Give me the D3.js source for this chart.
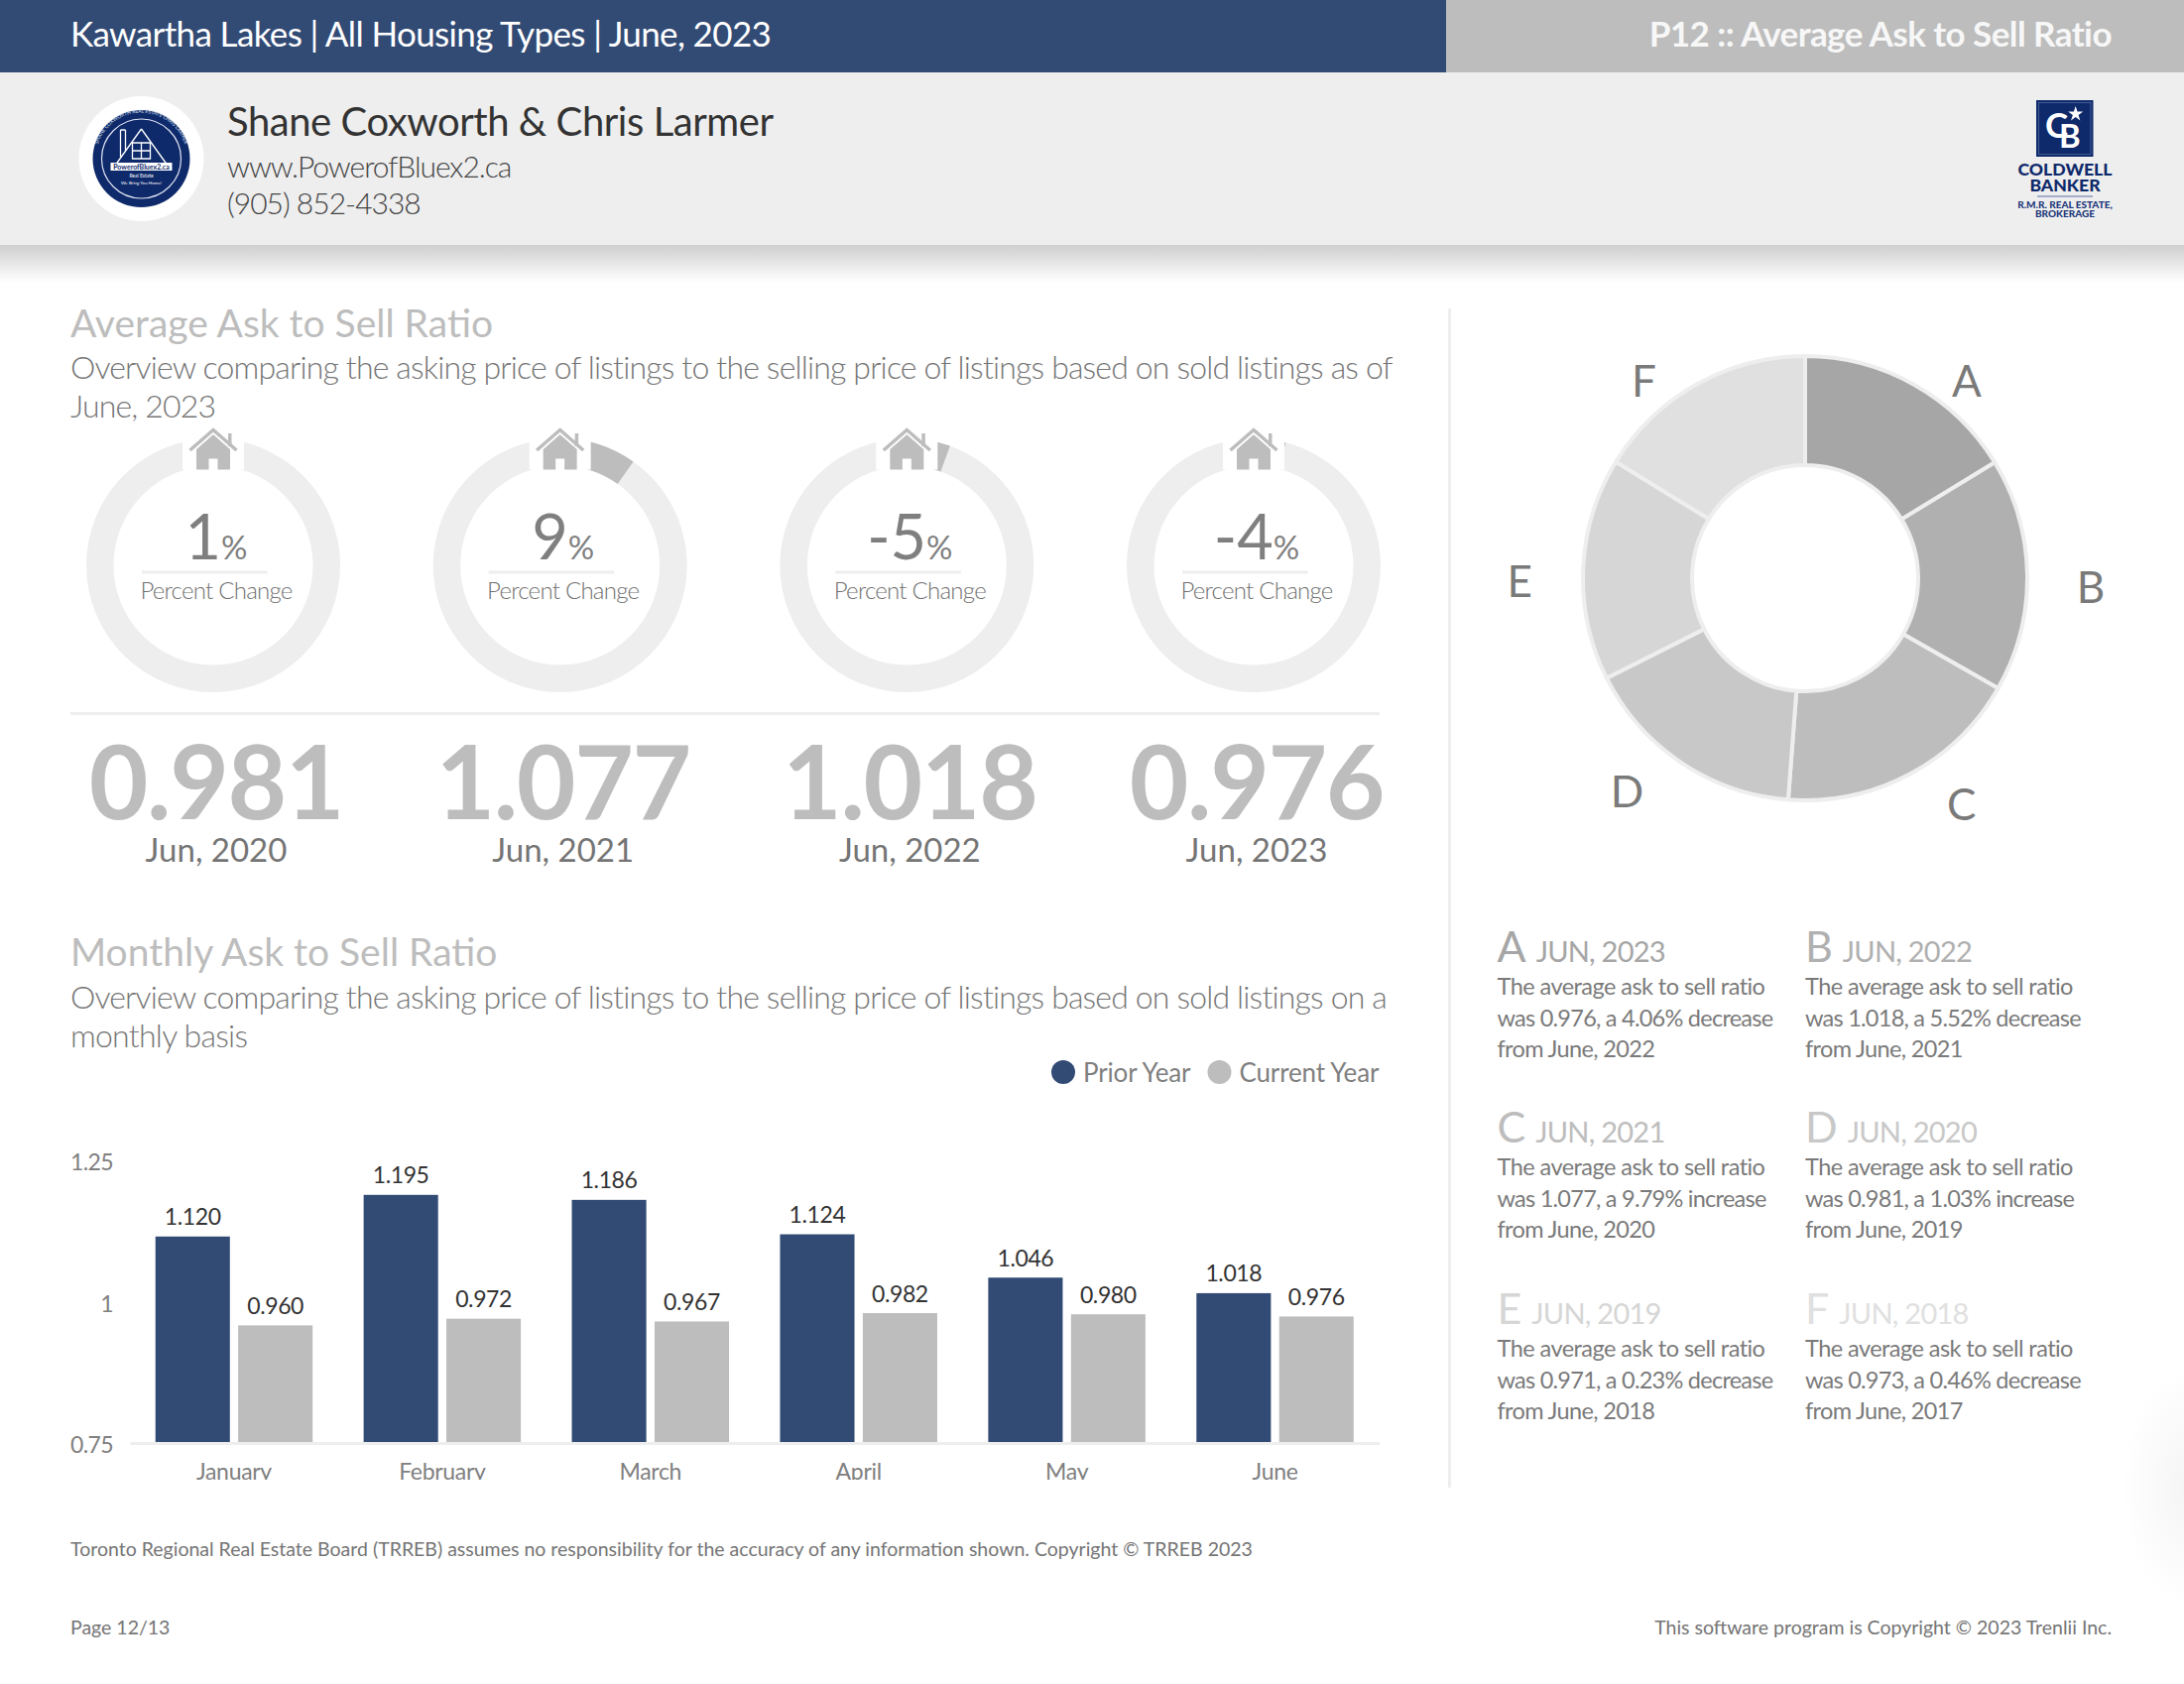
<!DOCTYPE html>
<html>
<head>
<meta charset="utf-8">
<script src="https://d3js.org/d3.v7.min.js"></script>
<style>
  html, body { margin: 0; padding: 0; background: #fff; }
  svg { display: block; font-family: Lato, sans-serif; }
  .axis text { font-family: Lato, sans-serif; }
</style>
</head>
<body>
<script>
const width = 2202;
const height = 1698;

// yearly cards
const yearLabels = ['Jun, 2020', 'Jun, 2021', 'Jun, 2022', 'Jun, 2023'];
const yearValues = ['0.981', '1.077', '1.018', '0.976'];
const yearChange = [1, 9, -5, -4];          // as printed in the ring
const yearChangeExact = [1.03, 9.79, -5.52, -4.06]; // what the ring arc shows

// monthly bars
const months = ['January', 'February', 'March', 'April', 'May', 'June'];
const priorYear = [1.120, 1.195, 1.186, 1.124, 1.046, 1.018];
const currentYear = [0.960, 0.972, 0.967, 0.982, 0.980, 0.976];
const yTicks = [0.75, 1, 1.25];
const seriesNames = ['Prior Year', 'Current Year'];

// big donut + notes
const sliceLetters = ['A', 'B', 'C', 'D', 'E', 'F'];
const sliceValues = [0.976, 1.018, 1.077, 0.981, 0.971, 0.973];
const sliceColors = ['#a6a6a6', '#b0b0b0', '#bdbdbd', '#c8c8c8', '#d6d6d6', '#e0e0e0'];
const noteYears = ['JUN, 2023', 'JUN, 2022', 'JUN, 2021', 'JUN, 2020', 'JUN, 2019', 'JUN, 2018'];
const noteMiddle = [
  'was 0.976, a 4.06% decrease', 'was 1.018, a 5.52% decrease',
  'was 1.077, a 9.79% increase', 'was 0.981, a 1.03% increase',
  'was 0.971, a 0.23% decrease', 'was 0.973, a 0.46% decrease'
];
const noteLast = [
  'from June, 2022', 'from June, 2021', 'from June, 2020',
  'from June, 2019', 'from June, 2018', 'from June, 2017'
];

const blue = '#324b75';
const grey = '#bdbdbd';
const pale = '#eeeeee';
const navy = '#0f2a6b';
const textGrey = '#7a7a7a';

const svg = d3.select('body').append('svg')
  .attr('width', width)
  .attr('height', height);

const defs = svg.append('defs');

const shadow = defs.append('linearGradient').attr('id', 'shadow')
  .attr('x1', 0).attr('y1', 0).attr('x2', 0).attr('y2', 1);
shadow.append('stop').attr('offset', 0).attr('stop-color', '#cfcfcf');
shadow.append('stop').attr('offset', 1).attr('stop-color', '#ffffff');

const corner = defs.append('radialGradient').attr('id', 'corner');
corner.append('stop').attr('offset', 0).attr('stop-color', '#f4f4f4');
corner.append('stop').attr('offset', 1).attr('stop-color', '#ffffff');

defs.append('clipPath').attr('id', 'chart-clip')
  .append('rect').attr('x', 60).attr('y', 1100).attr('width', 1380).attr('height', 392);

function label(parent, x, y, str, size, fill, opts) {
  opts = opts || {};
  return parent.append('text')
    .attr('x', x).attr('y', y)
    .attr('font-size', size)
    .attr('fill', fill)
    .attr('font-weight', opts.weight || 400)
    .attr('text-anchor', opts.anchor || 'start')
    .attr('letter-spacing', opts.spacing || null)
    .text(str);
}

/* ---------- header ---------- */
svg.append('rect').attr('width', 1458).attr('height', 73).attr('fill', blue);
svg.append('rect').attr('x', 1458).attr('width', width - 1458).attr('height', 73).attr('fill', grey);
svg.append('rect').attr('y', 73).attr('width', width).attr('height', 174).attr('fill', pale);
svg.append('rect').attr('y', 247).attr('width', width).attr('height', 38).attr('fill', 'url(#shadow)');

svg.append('ellipse').attr('cx', 2210).attr('cy', 1500).attr('rx', 70).attr('ry', 120).attr('fill', 'url(#corner)');

label(svg, 71, 47, 'Kawartha Lakes | All Housing Types | June, 2023', 35, '#fff', { spacing: -0.63 });
label(svg, 2129, 47, 'P12 :: Average Ask to Sell Ratio', 35, '#f7f7f7', { anchor: 'end', weight: 700, spacing: -0.56 });

label(svg, 229, 137, 'Shane Coxworth & Chris Larmer', 40, '#333', { spacing: -0.45 });
label(svg, 229, 179, 'www.PowerofBluex2.ca', 30, '#444', { weight: 300, spacing: -1.05 });
label(svg, 229, 216, '(905) 852-4338', 30, '#444', { weight: 300, spacing: -1 });

// team badge
const badge = svg.append('g').attr('transform', 'translate(142.5,160)');
badge.append('circle').attr('r', 63).attr('fill', '#fff');
badge.append('circle').attr('r', 49).attr('fill', navy);
badge.append('circle').attr('r', 40).attr('fill', 'none').attr('stroke', '#dfe4f2').attr('stroke-width', 1.2);
badge.append('path').attr('d', 'M0,-30L-28,9M0,-30L28,9M-21,-29V-2M-16,-29V-8M-21,-29H-16')
  .attr('fill', 'none').attr('stroke', '#fff').attr('stroke-width', 1.3);
badge.append('path').attr('d', 'M-9,-16H9V0H-9ZM0,-16V0M-9,-8H9')
  .attr('fill', 'none').attr('stroke', '#fff').attr('stroke-width', 1.3);
badge.append('rect').attr('x', -31).attr('y', 4).attr('width', 62).attr('height', 8).attr('fill', '#fff');
label(badge, 0, 11, 'PowerofBluex2.ca', 7, navy, { anchor: 'middle', weight: 700 });
label(badge, 0, 19, 'Real Estate', 5, '#fff', { anchor: 'middle' });
label(badge, 0, 26, 'We Bring You Home!', 4.5, '#fff', { anchor: 'middle' });
defs.append('path').attr('id', 'badge-arc').attr('d', 'M-43,16A46,46 0 1 1 43,16');
badge.append('text').attr('font-size', 5).attr('fill', '#dfe4f2')
  .append('textPath').attr('href', '#badge-arc').attr('startOffset', '50%').attr('text-anchor', 'middle')
  .text('SHANE COXWORTH  REAL ESTATE  CHRIS LARMER');

// brokerage logo
const cb = svg.append('g');
cb.append('rect').attr('x', 2053).attr('y', 101).attr('width', 57.5).attr('height', 57).attr('fill', navy);
cb.append('rect').attr('x', 2055.5).attr('y', 103.5).attr('width', 52.5).attr('height', 52)
  .attr('fill', 'none').attr('stroke', '#5a6fa6').attr('stroke-width', 0.7);
label(cb, 2062, 139, 'C', 35, '#fff', { weight: 700 });
label(cb, 2076, 149, 'B', 33, '#fff', { weight: 700 });
cb.append('path').attr('d', d3.symbol(d3.symbolStar, 70)()).attr('transform', 'translate(2092.7,115)').attr('fill', '#fff');
label(cb, 2082, 176.7, 'COLDWELL', 17.6, navy, { anchor: 'middle', weight: 900 });
label(cb, 2082, 193, 'BANKER', 17.6, navy, { anchor: 'middle', weight: 900 });
cb.append('rect').attr('x', 2054).attr('y', 197.5).attr('width', 56).attr('height', 1).attr('fill', '#5a6fa6');
label(cb, 2082, 210, 'R.M.R. REAL ESTATE,', 10, '#22397a', { anchor: 'middle', weight: 900 });
label(cb, 2082, 218.5, 'BROKERAGE', 10, '#22397a', { anchor: 'middle', weight: 900 });

/* ---------- section headings ---------- */
label(svg, 71, 340, 'Average Ask to Sell Ratio', 39, grey);
label(svg, 71, 382, 'Overview comparing the asking price of listings to the selling price of listings based on sold listings as of', 32, '#757575', { weight: 300, spacing: -0.84 });
label(svg, 71, 421, 'June, 2023', 32, '#757575', { weight: 300, spacing: -0.84 });

label(svg, 71, 974, 'Monthly Ask to Sell Ratio', 39, grey);
label(svg, 71, 1017, 'Overview comparing the asking price of listings to the selling price of listings based on sold listings on a', 32, '#757575', { weight: 300, spacing: -0.84 });
label(svg, 71, 1056, 'monthly basis', 32, '#757575', { weight: 300, spacing: -0.75 });

/* ---------- yearly rings ---------- */
const ringX = d3.scalePoint().domain(yearLabels).range([215, 1264]);
const ringY = 570;
const ringOuter = 128;
const ringInner = 100.5;
const pctAngle = d3.scaleLinear().domain([0, 100]).range([0, 2 * Math.PI]);
const ringArc = d3.arc().innerRadius(ringInner).outerRadius(ringOuter).startAngle(0);

const rings = svg.selectAll('.ring').data(yearLabels).enter().append('g')
  .attr('class', 'ring')
  .attr('transform', d => 'translate(' + ringX(d) + ',' + ringY + ')');

rings.append('circle')
  .attr('r', (ringOuter + ringInner) / 2)
  .attr('fill', 'none')
  .attr('stroke', pale)
  .attr('stroke-width', ringOuter - ringInner);

rings.append('path')
  .attr('fill', grey)
  .attr('d', (d, i) => ringArc({ endAngle: pctAngle(Math.abs(yearChangeExact[i])) }));

// white notch + house on top of the ring
rings.append('rect')
  .attr('x', -31).attr('y', -ringOuter - 4)
  .attr('width', 62).attr('height', ringOuter - ringInner + 8)
  .attr('fill', '#fff');
rings.append('path')
  .attr('d', 'M-17,-117L0,-132L17,-117V-96.5H4.5V-107.5H-4.5V-96.5H-17Z')
  .attr('fill', grey);
rings.append('path')
  .attr('d', 'M-23,-116L0,-136L23,-116')
  .attr('fill', 'none').attr('stroke', '#fff').attr('stroke-width', 6);
rings.append('path')
  .attr('d', 'M-23.5,-116L0,-136.5L23.5,-116')
  .attr('fill', 'none').attr('stroke', grey).attr('stroke-width', 3.5);
rings.append('rect').attr('x', 15).attr('y', -133).attr('width', 3.5).attr('height', 13).attr('fill', grey);

const pctText = rings.append('text')
  .attr('x', 3).attr('y', -6)
  .attr('text-anchor', 'middle')
  .attr('fill', '#7f7f7f');
pctText.append('tspan').attr('font-size', 63).text((d, i) => yearChange[i]);
pctText.append('tspan').attr('font-size', 33).text('%');

rings.append('rect')
  .attr('x', -72).attr('y', 5.5).attr('width', 126.5).attr('height', 3).attr('fill', pale);
rings.append('text')
  .attr('x', 3).attr('y', 34)
  .attr('text-anchor', 'middle')
  .attr('font-size', 24)
  .attr('font-weight', 300)
  .attr('letter-spacing', -0.75)
  .attr('fill', '#707070')
  .text('Percent Change');

svg.append('rect').attr('x', 71).attr('y', 718).attr('width', 1320).attr('height', 3).attr('fill', pale);

rings.append('text')
  .attr('x', 3)
  .attr('y', 256)
  .attr('text-anchor', 'middle')
  .attr('font-size', 103)
  .attr('font-weight', 700)
  .attr('letter-spacing', -1.4)
  .attr('fill', grey)
  .text((d, i) => yearValues[i]);
rings.append('text')
  .attr('x', 3)
  .attr('y', 298.5)
  .attr('text-anchor', 'middle')
  .attr('font-size', 33)
  .attr('fill', '#757575')
  .text(d => d);

/* ---------- monthly bars ---------- */
const x0 = d3.scaleBand().domain(months).range([131, 1390.5]).paddingInner(0.245).paddingOuter(0.1225);
const x1 = d3.scaleBand().domain(seriesNames).range([0, x0.bandwidth()]).paddingInner(0.1);
const y = d3.scaleLinear().domain([0.75, 1.25]).range([1454, 1174]);
// the printed ticks sit on a slightly wider spacing than the bars
const yLabels = d3.scaleLinear().domain([0.75, 1.25]).range([1457, 1172.5]);
const barColor = d3.scaleOrdinal().domain(seriesNames).range([blue, grey]);

const chart = svg.append('g').attr('clip-path', 'url(#chart-clip)');

const yAxis = chart.append('g').attr('class', 'axis')
  .attr('transform', 'translate(120,0)')
  .call(d3.axisLeft(yLabels).tickValues(yTicks).tickSize(0).tickFormat(d => String(d)));
yAxis.select('.domain').remove();
yAxis.selectAll('text').attr('font-size', 23).attr('fill', '#808080').attr('x', -6).attr('letter-spacing', -0.6);

const xAxis = chart.append('g').attr('class', 'axis')
  .attr('transform', 'translate(0,1455)')
  .call(d3.axisBottom(x0).tickSize(0));
xAxis.select('.domain').attr('stroke', pale).attr('stroke-width', 3);
xAxis.selectAll('text').attr('font-size', 23).attr('fill', '#808080').attr('y', 21).attr('dy', '0.71em').attr('letter-spacing', -0.3);

const groups = chart.selectAll('.month').data(months).enter().append('g')
  .attr('class', 'month')
  .attr('transform', d => 'translate(' + x0(d) + ',0)');

seriesNames.forEach(function(name, s) {
  const vals = s === 0 ? priorYear : currentYear;
  groups.append('rect')
    .attr('x', x1(name))
    .attr('y', (d, i) => y(vals[i]))
    .attr('width', x1.bandwidth())
    .attr('height', (d, i) => y(0.75) - y(vals[i]))
    .attr('fill', barColor(name));
  groups.append('text')
    .attr('x', x1(name) + x1.bandwidth() / 2)
    .attr('y', (d, i) => y(vals[i]) - 11.5)
    .attr('text-anchor', 'middle')
    .attr('font-size', 23)
    .attr('letter-spacing', -0.4)
    .attr('fill', '#333')
    .text((d, i) => vals[i].toFixed(3));
});

// legend
const legendDot = d3.scaleOrdinal().domain(seriesNames).range([1072, 1229.5]);
seriesNames.forEach(function(name) {
  svg.append('circle').attr('cx', legendDot(name)).attr('cy', 1081).attr('r', 12).attr('fill', barColor(name));
  label(svg, legendDot(name) + 20, 1090.5, name, 26, '#7f7f7f', { spacing: -0.15 });
});

svg.append('rect').attr('x', 1460).attr('y', 311).attr('width', 3).attr('height', 1189).attr('fill', pale);

/* ---------- big donut ---------- */
const pie = d3.pie().sort(null)(sliceValues);
const arc = d3.arc().innerRadius(114).outerRadius(224);

const donut = svg.append('g').attr('transform', 'translate(1820,583)');
donut.selectAll('path').data(pie).enter().append('path')
  .attr('d', arc)
  .attr('fill', (d, i) => sliceColors[i])
  .attr('stroke', pale)
  .attr('stroke-width', 4);

function midAngle(d) {
  return (d.startAngle + d.endAngle) / 2;
}
// letters sit on a circle pushed out sideways and nudged down
donut.selectAll('.slice-label').data(pie).enter().append('text')
  .attr('class', 'slice-label')
  .attr('x', d => 245 * Math.sin(midAngle(d)) + 43 * Math.sign(Math.sin(midAngle(d))))
  .attr('y', d => -243 * Math.cos(midAngle(d)) + 13.5)
  .attr('dy', '0.35em')
  .attr('text-anchor', 'middle')
  .attr('font-size', 44)
  .attr('fill', '#7a7a7a')
  .text((d, i) => sliceLetters[i]);

/* ---------- notes ---------- */
const noteX = d3.scaleOrdinal().domain([0, 1]).range([1509.5, 1820]);
const noteY = d3.scaleOrdinal().domain([0, 1, 2]).range([970, 1152, 1335]);

sliceLetters.forEach(function(letter, i) {
  const g = svg.append('g')
    .attr('transform', 'translate(' + noteX(i % 2) + ',' + noteY(Math.floor(i / 2)) + ')');
  const head = g.append('text').attr('fill', sliceColors[i]);
  head.append('tspan').attr('font-size', 43).text(letter);
  head.append('tspan').attr('font-size', 29).attr('dx', 10).attr('letter-spacing', -0.75).text(noteYears[i]);
  label(g, 0, 33, 'The average ask to sell ratio', 23.5, textGrey, { spacing: -0.55 });
  label(g, 0, 65, noteMiddle[i], 23.5, textGrey, { spacing: -0.75 });
  label(g, 0, 96, noteLast[i], 23.5, textGrey, { spacing: -0.65 });
});

/* ---------- footer ---------- */
label(svg, 71, 1569, 'Toronto Regional Real Estate Board (TRREB) assumes no responsibility for the accuracy of any information shown. Copyright © TRREB 2023', 19.5, '#757575');
label(svg, 71, 1647.5, 'Page 12/13', 19.5, '#757575');
label(svg, 2129, 1647.5, 'This software program is Copyright © 2023 Trenlii Inc.', 19.5, '#757575', { anchor: 'end' });
</script>
</body>
</html>
